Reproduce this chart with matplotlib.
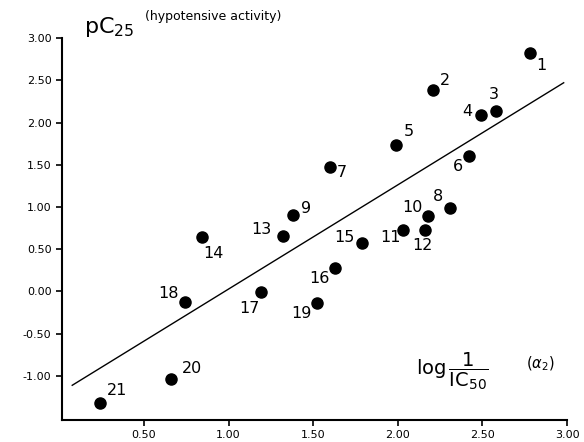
import numpy as np
import matplotlib.pyplot as plt

# compound numbers and activities
labels = [str(i) for i in range(1, 22)]
log_ic50 = [2.78, 2.21, 2.58, 2.49, 1.99, 2.42, 1.60, 2.31, 1.38, 2.18, 2.03,
            2.16, 1.32, 0.845, 1.79, 1.63, 1.19, 0.74, 1.52, 0.66, 0.24]
pc25 = [2.82, 2.38, 2.14, 2.09, 1.73, 1.60, 1.47, 0.99, 0.91, 0.89, 0.73,
        0.73, 0.66, 0.64, 0.57, 0.28, -0.01, -0.12, -0.14, -1.03, -1.32]
# label offsets (pixels) relative to the dots
offsets = [(12, -12), (12, 10), (-2, 16), (-13, 3), (13, 14), (-11, -10),
           (12, -5), (-12, 11), (13, 6), (-16, 9), (-12, -8), (-2, -16),
           (-21, 6), (11, -16), (-18, 6), (-16, -11), (-11, -16), (-16, 8),
           (-15, -10), (21, 10), (17, 13)]

# regression line
slope, intercept = 1.233, -1.204
line_x = np.array([0.076, 2.98])

xticks = [0.50, 1.00, 1.50, 2.00, 2.50, 3.00]
yticks = [-1.00, -0.50, 0.00, 0.50, 1.00, 1.50, 2.00, 2.50, 3.00]

fig = plt.figure(figsize=(5.84, 4.42), dpi=100)
ax = fig.add_axes([0.106, 0.05, 0.865, 0.864])

ax.plot(line_x, slope*line_x + intercept, color="black", lw=1.0)
ax.plot(log_ic50, pc25, "o", color="black", ms=8)
for i in range(len(labels)):
    ax.annotate(labels[i], (log_ic50[i], pc25[i]), xytext=offsets[i],
                textcoords="offset pixels", ha="center", va="center", fontsize=11.5)

ax.set_xlim(0.015, 3.0)
ax.set_ylim(-1.52, 3.0)
ax.set_xticks(xticks)
ax.set_yticks(yticks)
ax.set_xticklabels(["%.2f" % t for t in xticks], fontsize=8)
ax.set_yticklabels(["%.2f" % t for t in yticks], fontsize=8)
ax.tick_params(direction="out", length=4, width=1.2)
for s in ["top", "right"]:
    ax.spines[s].set_visible(False)
for s in ["left", "bottom"]:
    ax.spines[s].set_linewidth(1.5)

fig.text(0.143, 0.94, r"pC$_{25}$", fontsize=16, ha="left", va="center")
fig.text(0.248, 0.963, "(hypotensive activity)", fontsize=9, ha="left", va="center")
fig.text(0.713, 0.16, r"log$\,\dfrac{1}{\mathrm{IC}_{50}}$", fontsize=14, ha="left", va="center")
fig.text(0.9, 0.178, r"($\alpha_2$)", fontsize=10.5, ha="left", va="center")

plt.savefig("out.png", dpi=100)
